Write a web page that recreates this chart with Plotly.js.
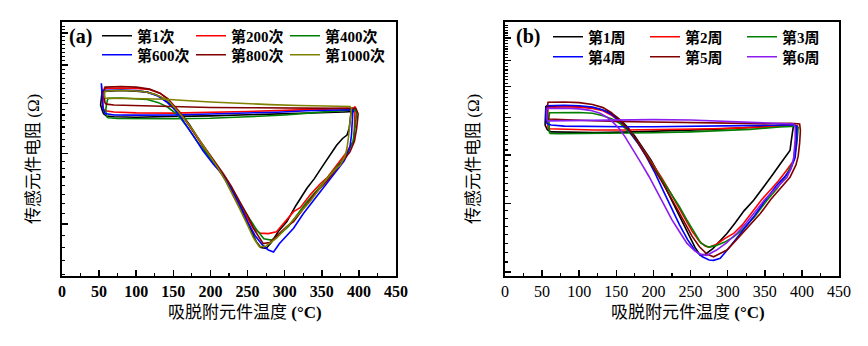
<!DOCTYPE html>
<html><head><meta charset="utf-8">
<script src="https://cdn.plot.ly/plotly-3.0.1.min.js"></script>
<style>html,body{margin:0;padding:0;background:#fff}#c{width:868px;height:346px}</style>
</head><body><div id="c"></div>
<script>
// ---------- panel (a): cycles ----------
const namesA = ['第1次','第200次','第400次','第600次','第800次','第1000次'];
const colorsA = ['#000000','#ff0000','#008000','#0000ff','#800000','#808000'];
const a1_T = [54,52,53,54,60,80,100,115,128,138,147,155,163,172,186,199,208,218,231,240,249,257,262,268,275,282,292,303,315,330,340,352,362,370,378,384,387,388,390,392,393,380,340,300,250,200,150,100,70,60,56,54];
const a1_R = [77.2,79.5,82.5,85.5,86.0,86.3,86.0,85.5,84.0,82.0,79.5,77.0,74.5,70.8,64.3,59.0,56.2,52.5,47.3,44.0,40.6,37.8,36.1,35.0,34.8,36.0,38.5,40.6,44.5,49.2,52.0,56.2,59.8,63.0,65.5,66.8,69.5,73.5,77.9,77.6,76.5,76.3,75.9,75.5,75.2,74.6,74.4,74.0,74.2,74.5,75.5,77.2];
const a2_T = [56,55,56,57,80,100,118,132,142,150,158,166,177,190,200,212,222,231,240,249,258,267,278,289,300,312,321,335,348,357,368,378,384,390,393,394,395,393,380,340,300,250,200,150,100,70,58,56];
const a2_R = [77.5,80,84,87.4,87.6,87.4,86.8,85.0,82.5,79.5,76.5,73.0,68.0,62.5,58.5,54.5,51.0,47.5,44.5,41.5,39.0,38.0,37.9,38.3,40.5,43.0,44.0,47.5,50.5,52.2,55.5,58.8,60.7,63.5,64.4,70,78.7,78.0,77.9,77.5,77.0,76.5,76.0,75.8,75.9,76.3,76.8,77.5];
const a3_T = [60,59,60,62,80,100,115,130,142,152,160,170,182,195,208,220,231,242,252,262,272,282,292,305,318,330,343,355,366,377,386,392,395,397,395,380,340,300,250,200,150,100,75,62,60];
const a3_R = [74.3,77,80,82.5,82.7,82.5,82.0,80.5,78.5,76.0,73.5,69.5,64.5,60.0,56.0,52.0,48.0,44.5,41.5,38.8,36.8,36.5,37.5,39.5,42.5,45.5,48.5,51.5,54.5,57.5,61.0,64.3,70,76.0,77.2,77.0,76.0,75.0,74.2,73.6,73.4,73.4,73.5,73.8,74.3];
const a4_T = [55,54,53,53,54,60,80,100,115,130,141,150,158,166,177,190,204,217,228,240,250,260,270,278,285,293,303,312,325,337,348,360,372,380,384,388,390,391,392,390,370,330,290,250,200,150,100,70,58,55];
const a4_R = [78.0,82,86,90.0,86.5,86.4,86.6,86.3,85.5,83.5,80.8,78.0,75.0,71.5,66.5,61.0,56.5,53.1,49.0,44.5,40.6,37.5,35.5,34.5,34.1,35.8,37.5,39.1,42.5,45.5,48.2,51.5,55.0,57.5,59.5,62.5,66.8,72,77.2,77.3,77.2,76.8,76.2,75.8,75.4,75.0,74.9,75.0,75.6,78.0];
const a5_T = [58,57,57,58,80,100,118,132,143,152,160,168,180,192,205,218,228,240,250,260,271,280,292,303,312,325,340,357,370,380,388,394,397,399,396,380,340,300,250,200,150,100,70,60,58];
const a5_R = [80.2,83,86,88.0,88.3,88.0,87.0,85.0,82.0,78.5,75.5,72.0,67.0,62.0,57.5,53.3,49.8,45.5,42.0,38.5,35.8,36.0,37.8,39.5,40.6,43.8,47.5,51.3,55.0,58.0,60.7,64.5,69.4,75.5,77.9,77.9,77.9,78.0,78.2,78.3,78.6,79.0,79.4,79.8,80.2];
const a6_T = [58,57,58,70,90,110,125,138,146,155,163,177,190,200,210,220,230,240,250,258,266,275,289,300,312,323,334,345,356,368,375,381,384,386,388,390,388,360,320,280,240,200,160,140,110,80,65,58];
const a6_R = [82.6,84.5,86.0,86.3,86.3,85.8,84.5,82.5,80.5,77.0,74.0,68.5,63.0,59.0,55.3,51.5,47.5,43.5,39.8,37.0,35.1,35.3,36.9,38.8,41.0,43.2,45.5,48.5,51.8,54.8,56.2,59.0,62.0,66.0,73.6,77.9,78.7,78.8,79.2,79.6,80.1,80.8,81.6,82.1,82.3,82.5,82.6,82.6];

// ---------- panel (b): weeks ----------
const namesB = ['第1周','第2周','第3周','第4周','第5周','第6周'];
const colorsB = ['#000000','#ff0000','#008000','#0000ff','#800000','#8b1cf0'];
const b1_T = [54,54,55,70,90,110,125,138,150,158,165,175,186,197,208,218,228,238,248,256,263,270,280,290,299,310,322,335,348,360,371,379,384,386,388,389,385,360,320,280,240,200,160,120,80,62,57,54];
const b1_R = [95.5,100,106.5,106.8,106.8,106.3,105.3,103.5,100.5,97.5,94.5,89.5,83.5,77.5,71.0,64.9,59.5,54.5,49.5,46.3,44.2,44.5,46.0,48.2,50.3,53.5,57.5,61.2,66.0,71.0,76.0,79.5,82.2,88,93,96.2,95.8,95.0,94.0,93.2,92.6,92.0,91.7,91.5,91.6,91.8,93.0,95.5];
const b2_T = [58,57,57,58,80,100,118,132,143,152,160,168,178,190,200,211,222,232,242,252,262,270,276,285,296,308,320,335,346,357,368,378,389,391,393,394,390,360,320,280,240,200,160,120,80,62,58];
const b2_R = [93.5,98,102,106.0,106.5,106.3,105.5,104.0,101.5,98.5,95.5,92.0,87.0,80.5,75.5,70.0,64.5,59.5,55.0,51.0,48.0,46.6,46.4,47.2,48.8,50.3,53.0,57.8,61.5,64.9,68.5,72.5,77.5,85,92.5,95.3,95.2,94.6,94.0,93.5,93.2,93.0,92.8,92.8,93.0,93.2,93.5];
const b3_T = [60,59,59,60,80,100,118,132,145,155,163,172,182,193,204,214,225,235,245,255,264,274,284,296,308,320,336,353,366,378,389,393,395,393,370,330,290,250,200,150,100,70,60];
const b3_R = [91.0,95,99,102.8,103.1,103.0,102.5,101.0,99.0,96.5,93.5,89.5,84.5,78.5,73.0,68.0,63.5,59.0,54.5,50.5,47.5,46.4,46.8,47.8,49.3,51.5,55.5,61.2,65.5,70.5,77.5,85,94.3,95.0,94.5,93.2,92.3,91.8,91.3,91.0,90.8,90.8,91.0];
const b4_T = [56,55,55,56,80,100,118,132,143,152,160,168,178,190,202,213,224,235,246,256,266,275,281,290,303,318,335,350,365,377,384,391,393,393,390,360,320,280,240,200,160,120,80,62,56];
const b4_R = [96.5,100,104,107.2,107.5,107.2,106.3,104.5,102.0,99.0,96.0,92.0,86.5,79.5,72.0,64.9,58.5,53.0,48.5,45.5,43.8,43.0,42.9,43.4,46.5,50.5,55.5,61.0,66.5,70.5,73.0,79.0,88,95.0,95.8,95.5,95.2,95.0,94.8,94.6,94.6,94.7,95.0,95.6,96.5];
const b5_T = [58,57,57,58,80,100,118,132,143,152,160,168,178,190,200,210,220,230,241,252,262,272,281,290,299,312,328,344,358,372,384,392,395,397,398,397,385,350,300,250,200,150,110,80,62,58];
const b5_R = [99.1,103,106.5,109.4,109.6,109.2,108.0,106.0,103.0,99.5,96.0,92.5,87.0,80.0,74.5,69.0,64.0,59.0,54.0,49.5,46.5,44.5,43.8,44.6,45.6,48.5,52.5,56.6,61.5,66.0,70.2,75.5,79.5,86,92.5,96.2,96.6,96.4,96.6,96.8,97.2,97.6,98.2,98.6,99.0,99.1];
const b6_T = [57,56,56,57,80,100,115,128,138,146,154,162,172,183,194,204,214,225,236,245,255,263,272,285,298,313,325,335,350,366,380,386,389,391,391,389,370,330,290,250,200,160,130,100,75,62,57];
const b6_R = [98.0,101,104,105.5,105.6,105.2,104.3,102.5,100.0,97.0,93.5,89.0,83.0,76.5,70.5,64.9,59.5,54.5,50.5,47.5,45.5,44.5,44.2,45.6,47.5,50.5,53.5,56.6,61.5,66.0,70.2,74.5,79.0,88,94.3,96.2,96.5,97.3,98.0,98.5,98.7,98.5,98.4,98.2,98.0,98.0,98.0];

const xTickVals = [0,50,100,150,200,250,300,350,400,450];
const yMajorA = [40,60,80,100,120];
const yMajorB = [40,60,80,100,120,140,160];
const xTitle = '吸脱附元件温度 <b>(°C)</b>';
const yTitle = '传感元件电阻 (Ω)';

const seriesA = [[a1_T,a1_R],[a2_T,a2_R],[a3_T,a3_R],[a4_T,a4_R],[a5_T,a5_R],[a6_T,a6_R]];
const seriesB = [[b1_T,b1_R],[b2_T,b2_R],[b3_T,b3_R],[b4_T,b4_R],[b5_T,b5_R],[b6_T,b6_R]];

const traces = [];
seriesA.forEach((s,i)=>{const t={x:s[0],y:s[1],type:'scatter',mode:'lines',name:namesA[i],
  line:{color:colorsA[i],width:1.6},xaxis:'x',yaxis:'y',legend: i<3?'legend':'legend2'};
  if(i===5) t.legendwidth=80; traces.push(t);});
seriesB.forEach((s,i)=>{const t={x:s[0],y:s[1],type:'scatter',mode:'lines',name:namesB[i],
  line:{color:colorsB[i],width:1.6},xaxis:'x2',yaxis:'y2',legend: i<3?'legend3':'legend4'};
  if(i===2||i===5) t.legendwidth=60; traces.push(t);});

function minorVals(lo,hi,step){const v=[];for(let t=lo;t<=hi+1e-9;t+=step)v.push(+t.toFixed(2));return v;}

const serif = 'Liberation Serif, Noto Sans CJK SC, serif';
const W=868,H=346;
function xax(domain,bold){return {domain:domain,range:[0,450],tickvals:xTickVals,ticktext:xTickVals.map(String),
  ticks:'inside',ticklen:6,tickwidth:1.5,tickcolor:'#000',showline:true,linewidth:1.8,linecolor:'#000',mirror:true,
  showgrid:false,zeroline:false,tickfont:{family:serif,size:16,color:'#000',weight:bold?'bold':'normal'},
  minor:{ticks:'inside',dtick:25,tick0:0,ticklen:3,tickwidth:1.2,tickcolor:'#000',showgrid:false},automargin:false};}
function yax(domain,range,major,minorLo,minorHi){return {domain:domain,type:'log',range:range,tickvals:major,
  ticks:'inside',ticklen:6,tickwidth:1.5,tickcolor:'#000',showticklabels:false,showline:true,linewidth:1.8,linecolor:'#000',mirror:true,
  showgrid:false,zeroline:false,
  minor:{ticks:'inside',tickvals:minorVals(minorLo,minorHi,2.5),ticklen:3,tickwidth:1.2,tickcolor:'#000',showgrid:false},automargin:false};}

const yd=[(H-276)/H,(H-22)/H];
const legFont={family:serif,size:15,color:'#000',weight:'bold'};
function leg(x,y,ew){return {x:x,y:y,xref:'paper',yref:'paper',xanchor:'left',yanchor:'middle',orientation:'h',
  entrywidth:ew,entrywidthmode:'pixels',font:legFont,bgcolor:'rgba(0,0,0,0)',borderwidth:0,traceorder:'normal',itemclick:false};}
const tFont={family:serif,size:17,color:'#000'};
function ann(text,x,y,opts){return Object.assign({text:text,x:x/W,y:1-y/H,xref:'paper',yref:'paper',showarrow:false,
  xanchor:'center',yanchor:'middle',font:tFont},opts||{});}

const layout = {width:W,height:H,margin:{l:0,r:0,t:0,b:0},paper_bgcolor:'#fff',plot_bgcolor:'#fff',showlegend:true,
  xaxis:xax([62/W,396/W],true), yaxis:yax(yd,[Math.log10(29.7),Math.log10(128)],yMajorA,30,127.5),
  xaxis2:xax([505/W,839/W],false), yaxis2:yax(yd,[Math.log10(39.1),Math.log10(176)],yMajorB,40,175),
  legend:leg(97/W,1-36/H,49), legend2:leg(97/W,1-55/H,49),
  legend3:leg(548/W,1-37/H,52), legend4:leg(548/W,1-57/H,52),
  annotations:[
    ann('<b>(a)</b>',80,36,{font:{family:serif,size:20,color:'#000'}}),
    ann('<b>(b)</b>',528,37,{font:{family:serif,size:20,color:'#000'}}),
    ann(xTitle,245,312), ann(xTitle,688,312),
    ann(yTitle,33,159,{textangle:-90}), ann(yTitle,473,159,{textangle:-90})
  ]};
layout.xaxis2.anchor='y2'; layout.yaxis2.anchor='x2'; layout.xaxis.anchor='y'; layout.yaxis.anchor='x';
Plotly.newPlot('c',traces,layout,{staticPlot:true,displayModeBar:false});
</script></body></html>
